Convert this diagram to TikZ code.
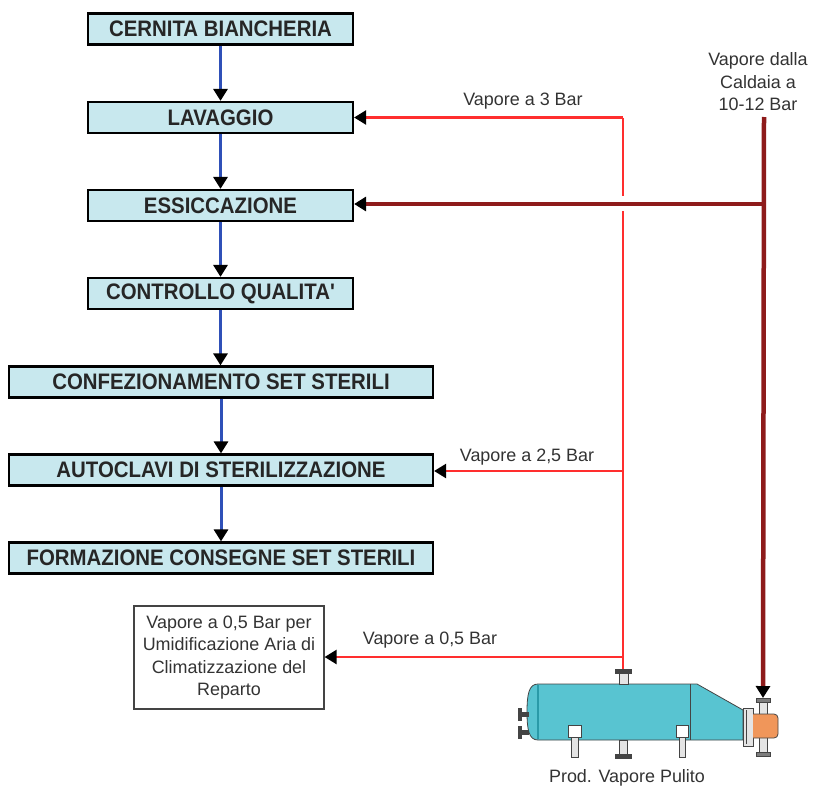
\documentclass[tikz,border=0pt]{standalone}
\usepackage{fontspec}
\setmainfont{Liberation Sans}
\newfontface\boxfont[FakeStretch=0.91]{Liberation Sans Bold}
\usetikzlibrary{arrows.meta}
\definecolor{boxfill}{HTML}{C8E8EE}
\definecolor{flowblue}{HTML}{2F50B8}
\definecolor{steamred}{HTML}{FF2E2E}
\definecolor{boilred}{HTML}{8E1B1B}
\definecolor{txtgray}{HTML}{333333}
\definecolor{shellcol}{HTML}{58C4D1}
\definecolor{shelldark}{HTML}{2A9AA8}
\definecolor{headcol}{HTML}{F0965A}
\definecolor{pipegray}{HTML}{E4E4E4}
\definecolor{outl}{HTML}{444444}
\begin{document}
\begin{tikzpicture}[x=1bp,y=-1bp,
  stepbox/.style={draw=black, line width=2.2bp, fill=boxfill, minimum height=31bp, inner sep=0pt,
    font=\fontsize{22.5}{22.5}\boxfont, text=black!85},
  narrowbox/.style={stepbox, minimum width=265bp},
  widebox/.style={stepbox, minimum width=424bp},
  flow/.style={draw=flowblue, line width=3bp, -{Triangle[width=14bp,length=12bp,color=black]}},
  steam/.style={draw=steamred, line width=2.4bp},
  steamarrow/.style={steam, -{Triangle[width=14bp,length=12bp,color=black]}},
  boiler/.style={draw=boilred, line width=4.5bp},
  boilerarrow/.style={boiler, -{Triangle[width=14bp,length=12bp,color=black]}},
  lbl/.style={font=\fontsize{18}{22.5}\selectfont, text=txtgray, align=center, inner sep=0pt},
  part/.style={draw=outl, line width=0.8bp},
]
\useasboundingbox (0,0) rectangle (813,787);

% process boxes
\node[narrowbox] (cer) at (220.5,29) {CERNITA BIANCHERIA};
\node[narrowbox] (lav) at (220.5,117.5) {LAVAGGIO};
\node[narrowbox] (ess) at (220.5,205.5) {ESSICCAZIONE};
\node[narrowbox] (con) at (220.5,293.5) {CONTROLLO QUALITA'};
\node[widebox] (cfz) at (221,382) {CONFEZIONAMENTO SET STERILI};
\node[widebox] (aut) at (221,470) {AUTOCLAVI DI STERILIZZAZIONE};
\node[widebox] (frm) at (221,558) {FORMAZIONE CONSEGNE SET STERILI};

\node[draw=outl, line width=1.2bp, minimum width=190bp, minimum height=103bp,
  lbl, text=txtgray] (umi) at (229,657.5)
  {Vapore a 0,5 Bar per\\Umidificazione Aria di\\Climatizzazione del\\Reparto};

% flow arrows
\draw[flow] (cer.south) -- (lav.north);
\draw[flow] (lav.south) -- (ess.north);
\draw[flow] (ess.south) -- (con.north);
\draw[flow] (con.south) -- (cfz.north -| con.south);
\draw[flow] (cfz.south) -- (aut.north);
\draw[flow] (aut.south) -- (frm.north);

% ---------- boiler (clean steam generator) ----------
\filldraw[part, fill=pipegray] (759,699) rectangle (767,756);
\filldraw[part, fill=outl!70] (756,698) rectangle (770,702);
\filldraw[part, fill=outl!70] (756,752) rectangle (770,756);
\filldraw[part, fill=shellcol] (538,684) -- (697,684) -- (743,710) -- (743,740) -- (538,740)
  .. controls (529,740) and (527,730) .. (527,712)
  .. controls (527,694) and (529,684) .. (538,684) -- cycle;
\draw[shelldark, line width=1.6bp] (538,685) -- (538,739);
\draw[part] (690,684) -- (690,740);
\filldraw[part, fill=pipegray] (743,708) rectangle (753,746);
\draw[part] (746,710) -- (746,744);
\filldraw[part, fill=headcol, rounded corners=4bp] (753,714) -- (778,714) -- (778,738) -- (753,738);
\filldraw[part, fill=pipegray] (619,673) rectangle (628,684);
\filldraw[part, fill=outl] (615,669) rectangle (631,673);
\coordinate (topnoz) at (623,669);
\filldraw[part, fill=pipegray] (619,740) rectangle (627,754);
\filldraw[part, fill=outl] (615,754) rectangle (631,758);
\filldraw[part, fill=outl] (520,712) rectangle (528,716);
\filldraw[part, fill=outl] (518,708) rectangle (521,720);
\filldraw[part, fill=outl] (520,730) rectangle (528,734);
\filldraw[part, fill=outl] (518,726) rectangle (521,738);
\filldraw[part, fill=white] (568,725) rectangle (581,737);
\filldraw[part, fill=pipegray] (571,737) rectangle (578,757);
\filldraw[part, fill=white] (676,725) rectangle (688,737);
\filldraw[part, fill=pipegray] (679,737) rectangle (685,757);
\coordinate (boilin) at (763,698);

\node[lbl] (prod) at (627,778) {Prod. Vapore Pulito};

% ---------- steam lines ----------
\coordinate (j3) at (623,117.5);
\coordinate (gapA) at (623,196);
\coordinate (gapB) at (623,211);
\coordinate (j25) at (623,471);
\coordinate (j05) at (623,657);
\draw[steam] (j3) -- (gapA);
\draw[steam] (gapB) -- (topnoz);
\draw[steamarrow] (j3) -- (lav.east);
\draw[steamarrow] (j25) -- (aut.east |- j25);
\draw[steamarrow] (j05) -- (umi.east |- j05);

\coordinate (btop) at (764,117);
\coordinate (bess) at (764,204);
\draw[boilerarrow] (btop) -- (boilin);
\draw[boilerarrow] (bess) -- (ess.east |- bess);

% labels
\node[lbl] (l3) at (523,101) {Vapore a 3 Bar};
\node[lbl] (lcald) at (758,82) {Vapore dalla\\Caldaia a\\10-12 Bar};
\node[lbl] (l25) at (527,457) {Vapore a 2,5 Bar};
\node[lbl] (l05) at (430,640) {Vapore a 0,5 Bar};
\end{tikzpicture}
\end{document}
